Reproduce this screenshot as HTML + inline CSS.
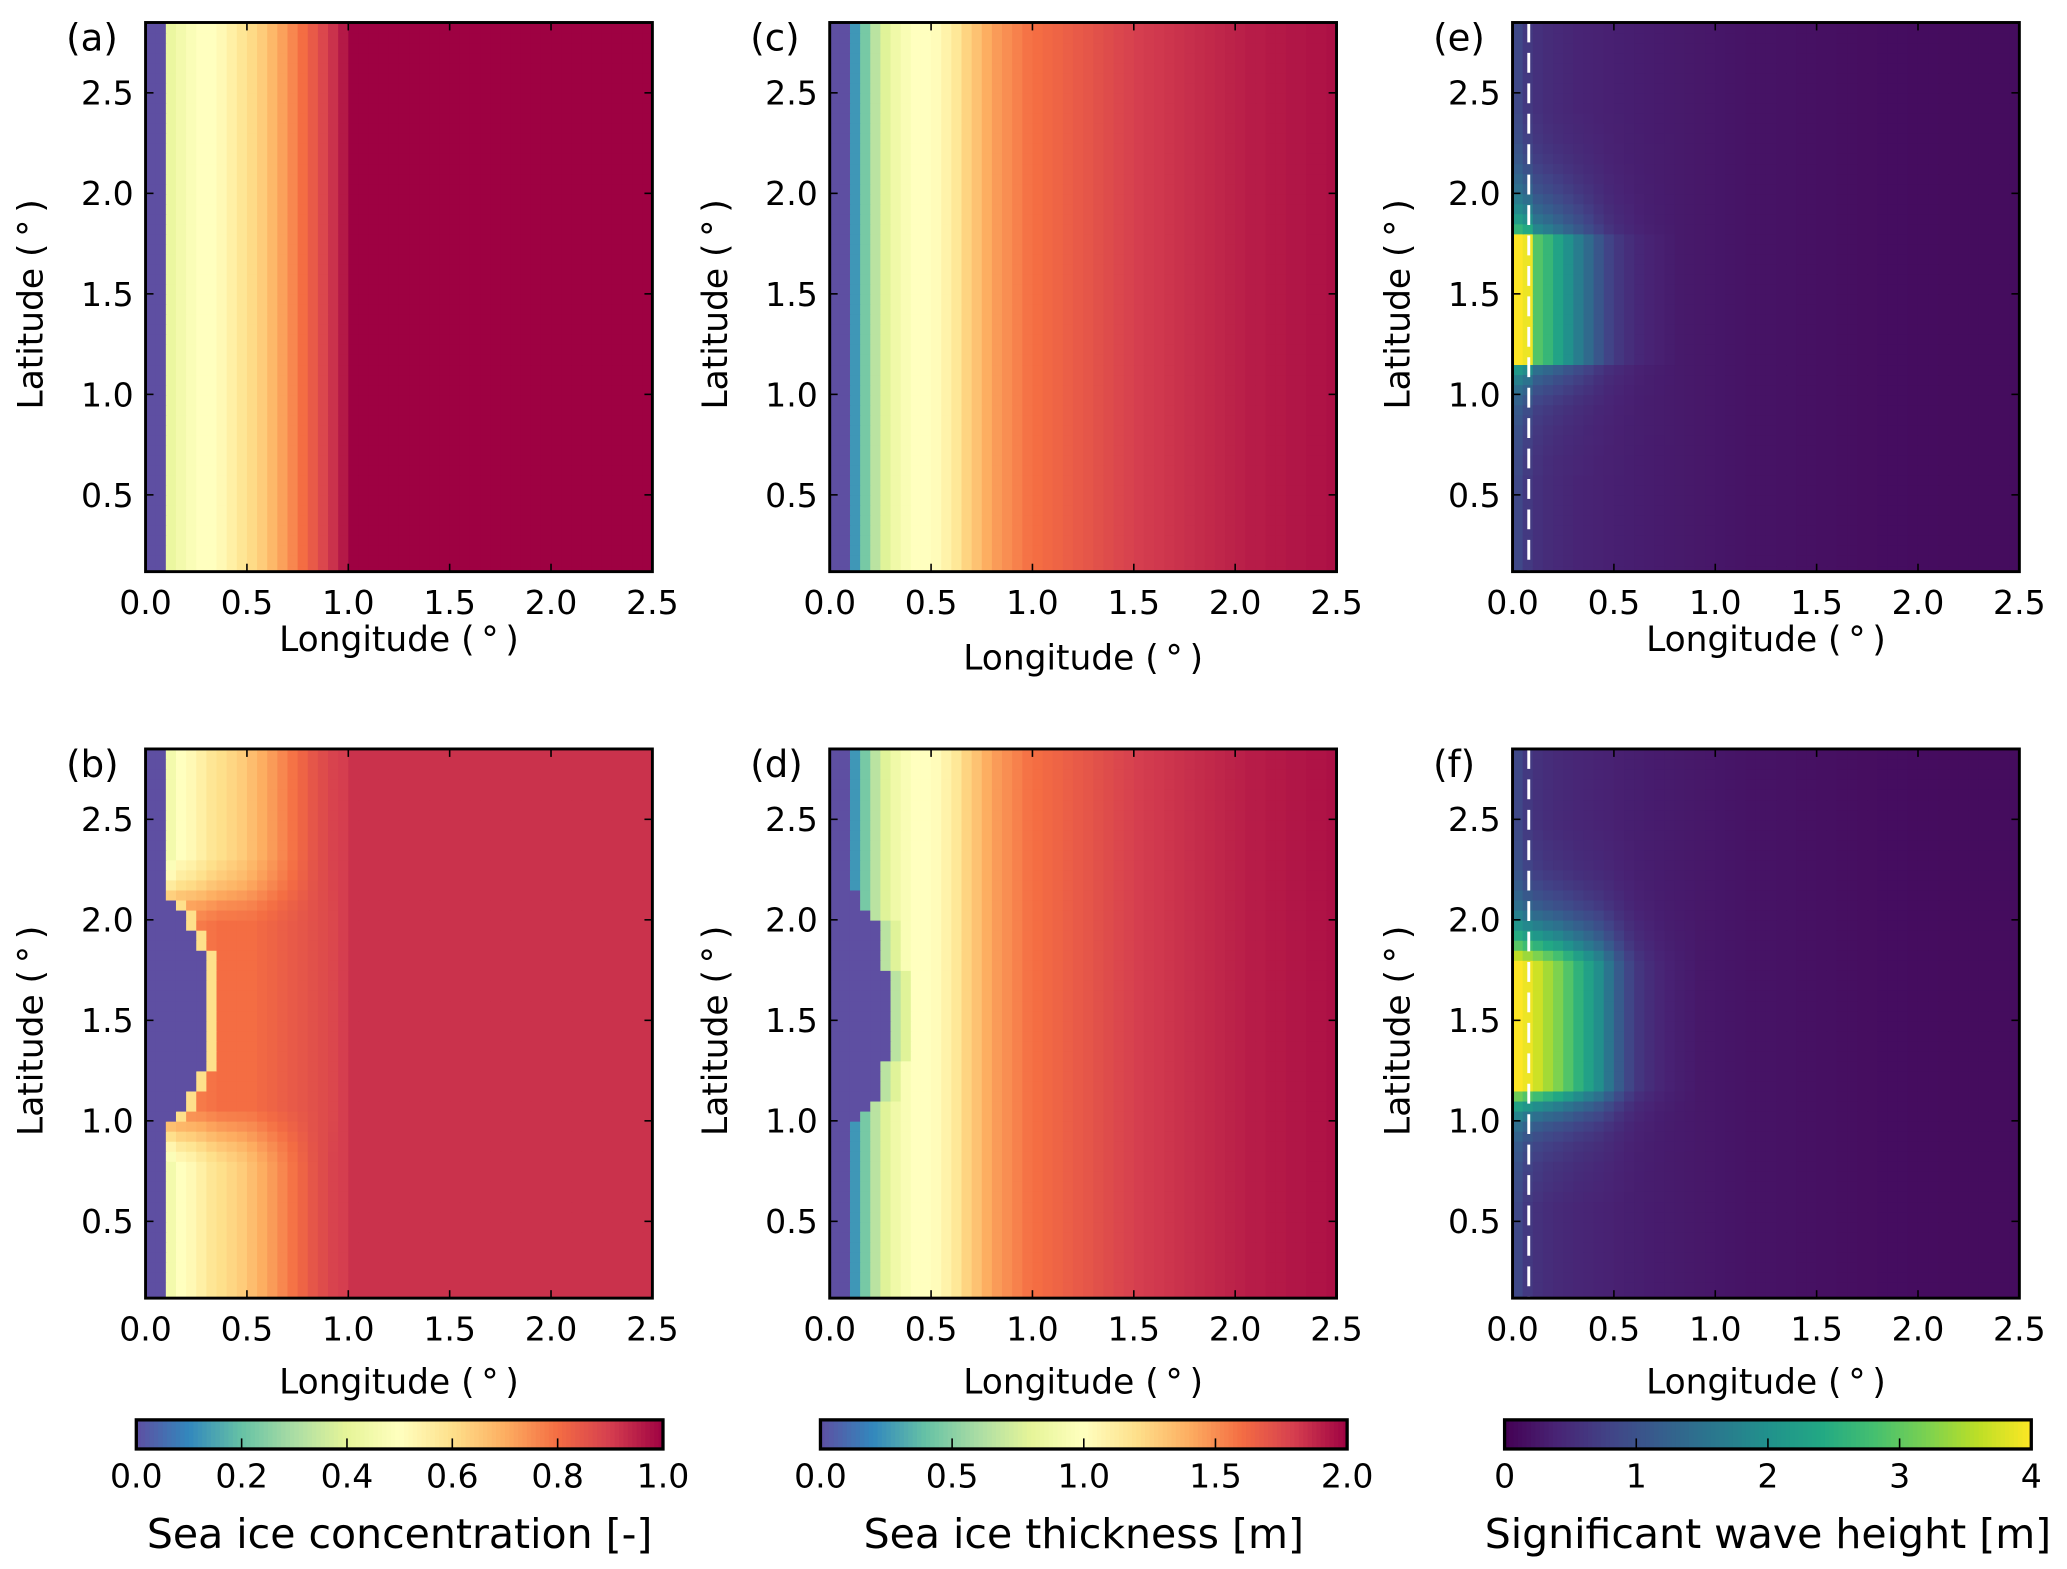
<!DOCTYPE html>
<html><head><meta charset="utf-8"><style>
html,body{margin:0;padding:0;background:#fff;}
svg{display:block;}
text{font-family:"DejaVu Sans","Liberation Sans",sans-serif;fill:#000;}
</style></head><body>
<svg id="fig" xmlns="http://www.w3.org/2000/svg" width="2067" height="1569" viewBox="0 0 1562 1185.7" preserveAspectRatio="none"></svg>
<script>
// ---- data (longitude bins every 0.05 deg from 0; latitude rows every 0.05 deg from 0.1) ----
const lonTicks = [0.0, 0.5, 1.0, 1.5, 2.0, 2.5];
const latTicks = [0.5, 1.0, 1.5, 2.0, 2.5];
const concA = [0,0,0.42,0.45,0.48,0.5,0.5,0.52,0.55,0.58,0.61,0.64,0.68,0.72,0.76,0.8,0.84,0.88,0.92,0.96,1,1,1,1,1,1,1,1,1,1,1,1,1,1,1,1,1,1,1,1,1,1,1,1,1,1,1,1,1,1,1];
const thickC = [0,0,0.25,0.45,0.65,0.78,0.88,0.95,1.0,1.0,1.02,1.08,1.15,1.25,1.32,1.4,1.46,1.5,1.54,1.58,1.6,1.62,1.64,1.66,1.68,1.7,1.72,1.74,1.76,1.78,1.8,1.81,1.82,1.83,1.84,1.85,1.86,1.87,1.88,1.89,1.9,1.91,1.91,1.92,1.92,1.93,1.93,1.94,1.94,1.95,1.95];
const concBOuter = [0,0,0.45,0.5,0.52,0.55,0.58,0.6,0.62,0.64,0.67,0.7,0.73,0.76,0.79,0.82,0.85,0.87,0.89,0.9,0.92];
const concBBand = [0,0,0.78,0.78,0.78,0.78,0.79,0.8,0.8,0.8,0.8,0.81,0.82,0.83,0.84,0.85,0.86,0.87,0.88,0.9,0.92];
const edgeB = [2,2,2,2,2,2,2,2,2,2,2,2,2,2,2,2,2,2,3,4,4,5,5,6,6,6,6,6,6,6,6,6,6,6,6,5,5,4,4,3,2,2,2,2,2,2,2,2,2,2,2,2,2,2,2];
const mixB = [0,0,0,0,0,0,0,0,0,0,0,0,0,0,0.1,0.25,0.45,0.65,0.85,1,1,1,1,1,1,1,1,1,1,1,1,1,1,1,1,1,1,1,0.9,0.75,0.55,0.35,0.2,0.1,0,0,0,0,0,0,0,0,0,0,0];
const edgeD = [2,2,2,2,2,2,2,2,2,2,2,2,2,2,2,2,2,2,3,4,5,5,5,5,6,6,6,6,6,6,6,6,6,5,5,5,5,5,4,3,3,2,2,2,2,2,2,2,2,2,2,2,2,2,2];
const waveBg = [0.8,0.6,0.5,0.45,0.42,0.4,0.38,0.37,0.36,0.35,0.34,0.33,0.32,0.31,0.3,0.29,0.28,0.27,0.26,0.25,0.24,0.23,0.22,0.21,0.2,0.2,0.19,0.19,0.18,0.18,0.17,0.17,0.16,0.16,0.15,0.15,0.14,0.14,0.14,0.13,0.13,0.13,0.12,0.12,0.12,0.12,0.12,0.12,0.12,0.12,0.12];
const wavePeakE = [3.3,3.3,2.4,2.2,1.9,1.6,1.3,1.0,0.7,0.45,0.3,0.2,0.12,0.08,0.05,0.03,0];
const wavePeakF = [3.3,3.3,3.2,3.0,2.8,2.5,2.2,1.9,1.6,1.2,0.8,0.5,0.3,0.2,0.12,0.08,0.05,0.03,0];
const waveLatE = [0.02,0.02,0.02,0.02,0.02,0.02,0.02,0.02,0.02,0.02,0.03,0.03,0.04,0.05,0.06,0.08,0.1,0.14,0.2,0.28,0.4,1,1,1,1,1,1,1,1,1,1,1,1,1,0.55,0.42,0.33,0.26,0.2,0.16,0.12,0.09,0.07,0.05,0.04,0.03,0.02,0.02,0.02,0.02,0.02,0.02,0.02,0.02,0.02];
const waveLatF = [0.02,0.02,0.02,0.02,0.02,0.02,0.02,0.02,0.02,0.02,0.03,0.04,0.05,0.06,0.08,0.1,0.14,0.2,0.3,0.45,0.7,1,1,1,1,1,1,1,1,1,1,1,1,1,0.85,0.65,0.5,0.38,0.28,0.2,0.15,0.11,0.08,0.06,0.05,0.04,0.03,0.02,0.02,0.02,0.02,0.02,0.02,0.02,0.02];
const dashLon = 0.08;
const cbTicksConc = [0.0,0.2,0.4,0.6,0.8,1.0];
const cbTicksThick = [0.0,0.5,1.0,1.5,2.0];
const cbTicksWave = [0,1,2,3,4];

// ---- colormaps ----
const spectralR = ["#5e4fa2","#3288bd","#66c2a5","#abdda4","#e6f598","#ffffbf","#fee08b","#fdae61","#f46d43","#d53e4f","#9e0142"];
const viridis = ["#440154","#482475","#414487","#355f8d","#2a788e","#21918c","#22a884","#44bf70","#7ad151","#bddf26","#fde725"];
function hex(c){return [parseInt(c.slice(1,3),16),parseInt(c.slice(3,5),16),parseInt(c.slice(5,7),16)];}
function cmap(stops,t){
  t=Math.max(0,Math.min(1,t));const n=stops.length-1;const f=t*n;const i=Math.min(n-1,Math.floor(f));const r=f-i;
  const a=hex(stops[i]),b=hex(stops[i+1]);
  return "rgb("+a.map((v,k)=>Math.round(v+(b[k]-v)*r)).join(",")+")";
}
const NS="http://www.w3.org/2000/svg";
const svg=document.getElementById('fig');
function el(tag,attrs,parent){const e=document.createElementNS(NS,tag);for(const k in attrs)e.setAttribute(k,attrs[k]);(parent||svg).appendChild(e);return e;}

const PW=383, PH=415, LAT_TOP=2.85, LAT_BOT=0.118, LON_MAX=2.5;
function xS(x0,lon){return x0+lon/LON_MAX*PW;}
function yS(y0,lat){return y0+(LAT_TOP-lat)/(LAT_TOP-LAT_BOT)*PH;}
const at=(arr,i)=>arr[Math.min(i,arr.length-1)];
const NLON=51, NLAT=55;

function panel(id,letter,x0,y0,valueFn,stops,vmax,xlabY,dashed){
  const g=el('g',{});
  
  
  const cp=el('clipPath',{id:'clip-'+id},g);
  el('rect',{x:x0,y:y0,width:PW,height:PH},cp);
  const hm=el('g',{'clip-path':'url(#clip-'+id+')'},g);
  
  
  for(let j=0;j<NLAT;j++){
    const latLo=0.1+0.05*j, latHi=latLo+0.05;
    for(let i=0;i<NLON;i++){
      const v=valueFn(i,j);
      const xa=xS(x0,i*0.05), xb=xS(x0,(i+1)*0.05);
      const ya=yS(y0,latHi), yb=yS(y0,latLo);
      const r=el('rect',{x:xa.toFixed(2),y:ya.toFixed(2),width:(xb-xa+0.6).toFixed(2),height:(yb-ya+0.6).toFixed(2),fill:cmap(stops,v/vmax)},hm);
      
      
    }
  }
  if(dashed){
    const dl=el('line',{x1:xS(x0,dashLon),x2:xS(x0,dashLon),y1:y0,y2:y0+PH,stroke:'#fff','stroke-width':2.2,'stroke-dasharray':'15,8'},hm);
    
    
  }
  lonTicks.forEach(t=>{
    const x=xS(x0,t);
    el('line',{x1:x,x2:x,y1:y0+PH,y2:y0+PH-6,stroke:'#000','stroke-width':1.2},g);
    el('line',{x1:x,x2:x,y1:y0,y2:y0+6,stroke:'#000','stroke-width':1.2},g);
    const tx=el('text',{x:x,y:y0+PH+32,'font-size':25,'text-anchor':'middle'},g);
    tx.textContent=t.toFixed(1);
    
    
  });
  latTicks.forEach(t=>{
    const y=yS(y0,t);
    el('line',{x1:x0,x2:x0+6,y1:y,y2:y,stroke:'#000','stroke-width':1.2},g);
    el('line',{x1:x0+PW,x2:x0+PW-6,y1:y,y2:y,stroke:'#000','stroke-width':1.2},g);
    const tx=el('text',{x:x0-9,y:y+9,'font-size':25,'text-anchor':'end'},g);
    tx.textContent=t.toFixed(1);
    
    
  });
  const fr=el('rect',{x:x0,y:y0,width:PW,height:PH,fill:'none',stroke:'#000','stroke-width':2.2},g);
  
  
  const xl=el('text',{x:x0+PW/2,y:xlabY,'font-size':26,'text-anchor':'middle'},g);
  xl.textContent='Longitude (\u2009\u00b0\u2009)';
  
  
  const yc=y0+213;
  const yl=el('text',{x:x0-86,y:yc,'font-size':26,'text-anchor':'middle',transform:'rotate(-90 '+(x0-86)+' '+yc+')','dominant-baseline':'central'},g);
  yl.textContent='Latitude (\u2009\u00b0\u2009)';
  
  
  const pl=el('text',{x:x0-60,y:y0+21,'font-size':28},g);
  pl.textContent='('+letter+')';
  
  
}

const cols=[110,627,1143], rows=[17,566];
panel('a','a',cols[0],rows[0],(i,j)=>at(concA,i),spectralR,1,492,false);
panel('c','c',cols[1],rows[0],(i,j)=>at(thickC,i),spectralR,2,506,false);
panel('e','e',cols[2],rows[0],(i,j)=>at(waveBg,i)+at(wavePeakE,i)*waveLatE[j],viridis,4,492,true);
panel('b','b',cols[0],rows[1],(i,j)=>{
  if(i<edgeB[j])return 0;
  const m=mixB[j];
  if(i===edgeB[j] && edgeB[j]>2) return 0.6;
  return at(concBOuter,i)*(1-m)+at(concBBand,i)*m;
},spectralR,1,1053,false);
panel('d','d',cols[1],rows[1],(i,j)=>{
  const e=edgeD[j];
  if(i<e)return 0;
  if(e>2 && i<e+2) return Math.min(at(thickC,i), at(thickC,4+(i-e)));
  return at(thickC,i);
},spectralR,2,1053,false);
panel('f','f',cols[2],rows[1],(i,j)=>at(waveBg,i)+at(wavePeakF,i)*waveLatF[j],viridis,4,1053,true);

function colorbar(id,x0,stops,ticks,vmax,labelFmt,title){
  const g=el('g',{});
  
  
  const W=398,y0=1073,H=22,N=120;
  for(let k=0;k<N;k++){
    el('rect',{x:(x0+k*W/N).toFixed(2),y:y0,width:(W/N+0.6).toFixed(2),height:H,fill:cmap(stops,(k+0.5)/N)},g);
  }
  ticks.forEach((t,idx)=>{
    const x=x0+t/vmax*W;
    if(idx>0&&idx<ticks.length-1)el('line',{x1:x,x2:x,y1:y0+H,y2:y0+H-8,stroke:'#000','stroke-width':1.2},g);
    const tx=el('text',{x:x,y:1124,'font-size':25,'text-anchor':'middle'},g);
    tx.textContent=labelFmt(t);
    
    
  });
  el('rect',{x:x0,y:y0,width:W,height:H,fill:'none',stroke:'#000','stroke-width':2.5},g);
  const tt=el('text',{x:x0+W/2,y:1170,'font-size':31,'text-anchor':'middle'},g);
  tt.textContent=title;
  
  
}
colorbar('concentration',103,spectralR,cbTicksConc,1,t=>t.toFixed(1),'Sea ice concentration [-]');
colorbar('thickness',620,spectralR,cbTicksThick,2,t=>t.toFixed(1),'Sea ice thickness [m]');
colorbar('wave-height',1137,viridis,cbTicksWave,4,t=>String(t),'Significant wave height [m]');
</script>
</body></html>
